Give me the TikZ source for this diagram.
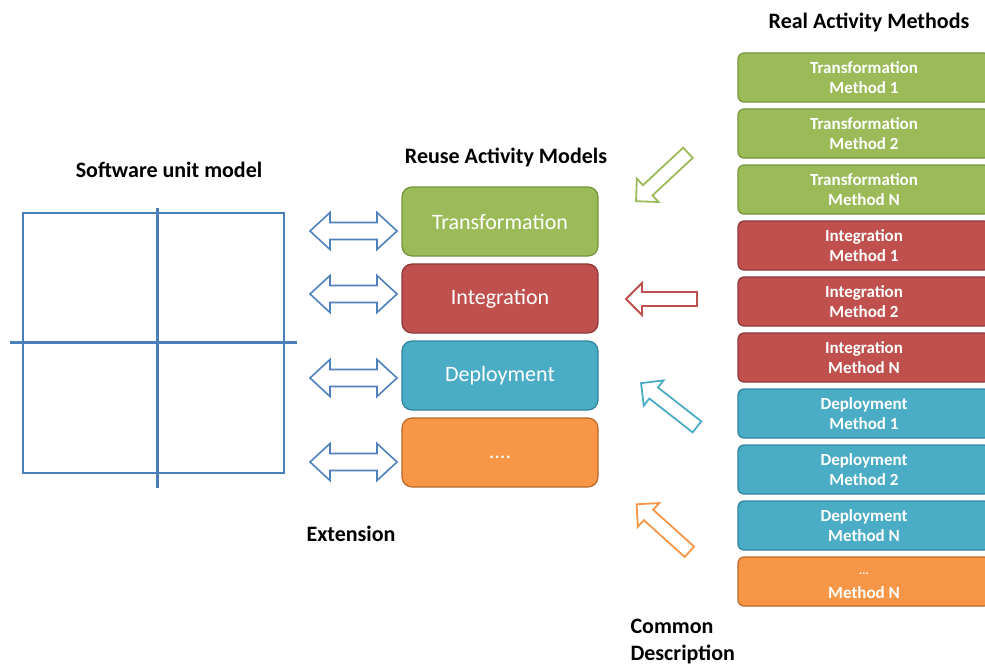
\documentclass[tikz,border=0pt]{standalone}
\usepackage{fontspec}
\setmainfont{Carlito}
\definecolor{gfill}{HTML}{9BBB59}\definecolor{gdraw}{HTML}{76933C}
\definecolor{rfill}{HTML}{C0504D}\definecolor{rdraw}{HTML}{8C3836}
\definecolor{cfill}{HTML}{4BACC6}\definecolor{cdraw}{HTML}{31849B}
\definecolor{ofill}{HTML}{F79646}\definecolor{odraw}{HTML}{B9692C}
\definecolor{ablue}{HTML}{4F81BD}
\definecolor{gridblue}{HTML}{4A7EBB}
\tikzset{
  title/.style={font=\fontsize{22}{26}\selectfont\bfseries, text=black},
  midbox/.style={rounded corners=10pt, line width=1.2pt, minimum width=196pt, minimum height=69pt, text=white, font=\fontsize{22}{26}\selectfont},
  rbox/.style={rounded corners=6pt, line width=1.2pt, minimum width=252pt, minimum height=49pt, text=white, align=center, font=\fontsize{17}{20}\selectfont\bfseries},
  rtext/.style={text=white, font=\fontsize{17}{20}\selectfont\bfseries},
  dblarrow/.style={draw=ablue, fill=white, line width=1.6pt, line join=miter},
  sglarrow/.style={fill=white, line width=1.8pt, line join=miter},
}
\begin{document}
\begin{tikzpicture}[x=1pt,y=-1pt]
\useasboundingbox (0,0) rectangle (985,666);
% titles
\node[title] (t1) at (169,170) {Software unit model};
\node[title] (t2) at (506,157) {Reuse Activity Models};
\node[title] (t3) at (869,22) {Real Activity Methods};
\node[title] (t4) at (351,534) {Extension};
\node[title, align=left, anchor=west, font=\fontsize{22}{27}\selectfont\bfseries] (t5) at (627,642) {Common\\Description};
% grid
\draw[gridblue, line width=1.6pt] (23,213) rectangle (284,473);
\draw[gridblue, line width=3pt] (157,208) -- (157,488);
\draw[gridblue, line width=3pt] (10,342) -- (297,342);
% middle boxes
\node[midbox, fill=gfill, draw=gdraw] (m1) at (500,221.5) {Transformation};
\node[midbox, fill=rfill, draw=rdraw] (m2) at (500,298.5) {Integration};
\node[midbox, fill=cfill, draw=cdraw] (m3) at (500,375.5) {Deployment};
\node[midbox, fill=ofill, draw=odraw] (m4) at (500,452.5) {};
\node[text=white, font=\fontsize{22}{26}\selectfont] (m4t) at (500,457) {....};
% double arrows
\foreach \yy in {231,294,378,462}{
  \draw[dblarrow, shift={(353.5,\yy)}] (-43.5,0) -- (-23.5,18.5) -- (-23.5,8.5) -- (23.5,8.5) -- (23.5,18.5) -- (43.5,0) -- (23.5,-18.5) -- (23.5,-8.5) -- (-23.5,-8.5) -- (-23.5,-18.5) -- cycle;
}
% single arrows
\foreach \cx/\cy/\ang/\col in {662/177/223/gfill, 661.5/299/180/rfill, 669/405/142/cfill, 663/528/138/ofill}{
  \draw[sglarrow, draw=\col, shift={(\cx,\cy)}, rotate=\ang] (35.5,0) -- (19.5,16) -- (19.5,7) -- (-35.5,7) -- (-35.5,-7) -- (19.5,-7) -- (19.5,-16) -- cycle;
}
% right boxes
\begin{scope}
\clip (0,0) rectangle (985,666);
\node[rbox, fill=gfill, draw=gdraw] (r1) at (864,77.5) {Transformation\\Method 1};
\node[rbox, fill=gfill, draw=gdraw] (r2) at (864,133.5) {Transformation\\Method 2};
\node[rbox, fill=gfill, draw=gdraw] (r3) at (864,189.5) {Transformation\\Method N};
\node[rbox, fill=rfill, draw=rdraw] (r4) at (864,245.5) {Integration\\Method 1};
\node[rbox, fill=rfill, draw=rdraw] (r5) at (864,301.5) {Integration\\Method 2};
\node[rbox, fill=rfill, draw=rdraw] (r6) at (864,357.5) {Integration\\Method N};
\node[rbox, fill=cfill, draw=cdraw] (r7) at (864,413.5) {Deployment\\Method 1};
\node[rbox, fill=cfill, draw=cdraw] (r8) at (864,469.5) {Deployment\\Method 2};
\node[rbox, fill=cfill, draw=cdraw] (r9) at (864,525.5) {Deployment\\Method N};
\node[rbox, fill=ofill, draw=odraw] (r10) at (864,581.5) {};
\end{scope}
\node[rtext, font=\fontsize{12}{14}\selectfont\bfseries] (r10a) at (864,574) {...};
\node[rtext] (r10b) at (864,593) {Method N};
\end{tikzpicture}
\end{document}
